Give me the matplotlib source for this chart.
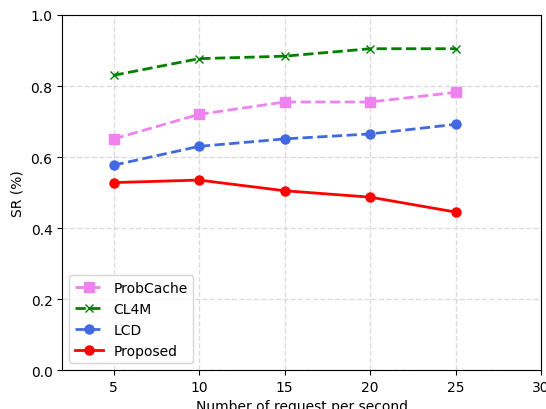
import numpy as np
import matplotlib
matplotlib.use("Agg")
import matplotlib.pyplot as plt

rate = [5, 10, 15, 20, 25]
probcache = [0.651, 0.720, 0.755, 0.755, 0.782]
cl4m = [0.830, 0.877, 0.884, 0.905, 0.905]
lcd = [0.577, 0.630, 0.651, 0.665, 0.692]
proposed = [0.528, 0.535, 0.505, 0.487, 0.445]

fig = plt.figure(figsize=(5.46, 4.10), dpi=100)
ax = fig.add_axes([0.114, 0.095, 0.877, 0.866])

ax.plot(rate, probcache, color='violet', linestyle='--', marker='s', lw=2, ms=6.5, label='ProbCache')
ax.plot(rate, cl4m, color='green', linestyle='--', marker='x', lw=2, ms=6, label='CL4M')
ax.plot(rate, lcd, color='royalblue', linestyle='--', marker='o', lw=2, ms=6.5, label='LCD')
ax.plot(rate, proposed, color='red', linestyle='-', marker='o', lw=2, ms=6.5, label='Proposed')

ax.set_xlim(2, 30)
ax.set_ylim(0, 1.0)
ax.set_xticks([5, 10, 15, 20, 25, 30])
ax.set_yticks([0.0, 0.2, 0.4, 0.6, 0.8, 1.0])
ax.grid(True, linestyle='--', color='lightgray', lw=1, alpha=0.8)
ax.set_xlabel('Number of request per second', fontsize=10)
ax.set_ylabel('SR (%)', fontsize=10)
ax.tick_params(labelsize=10)
ax.legend(loc='lower left', fontsize=10)

fig.savefig('out.png', dpi=100)
